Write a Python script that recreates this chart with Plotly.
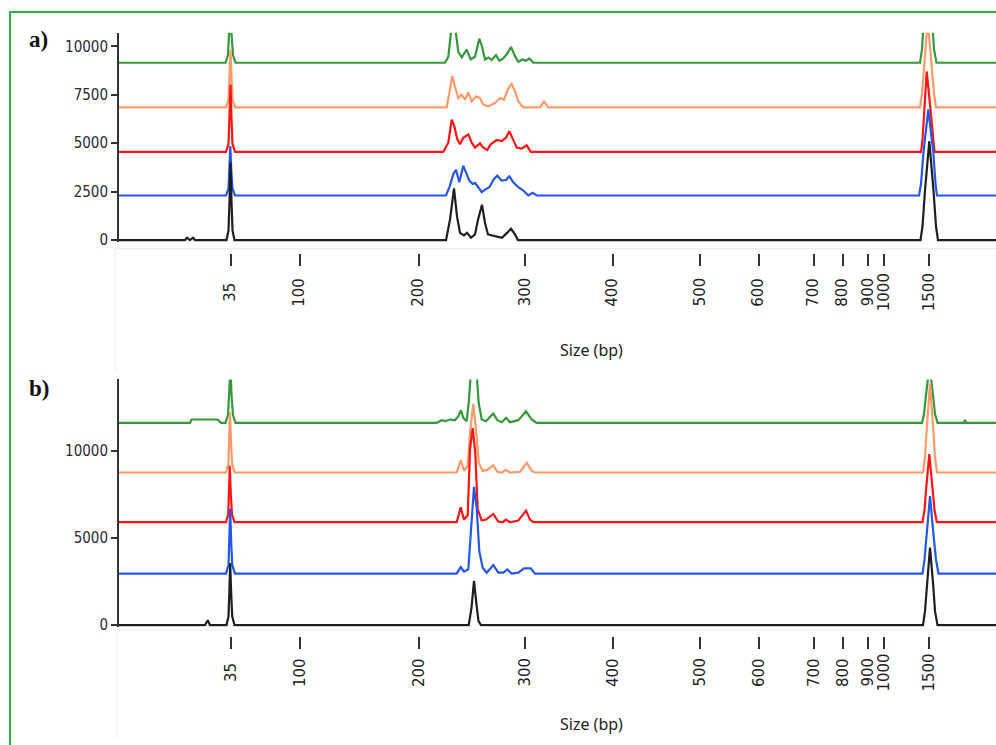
import plotly.graph_objects as go

# ---------------- data ----------------
# Size ladder: fragment size (bp) and its migration time (s)
LADDER_BP = [35, 100, 200, 300, 400, 500, 600, 700, 800, 900, 1000, 1500]
LADDER_T = [31.15, 38.05, 49.95, 60.6, 69.35, 78.1, 83.95, 89.45, 92.35, 94.9, 96.5, 101.0]

A_YTICKS = [0, 2500, 5000, 7500, 10000]
B_YTICKS = [0, 5000, 10000]

# Panel a) traces: migration time and signal (above each trace's own baseline)
A_BLACK_T = [20.0, 26.6, 26.8, 27.1, 27.4, 27.6, 30.75, 30.95, 31.05, 31.15, 31.25, 31.35, 31.55,
             52.7, 53.1, 53.5, 53.8, 54.1, 54.5, 54.8, 55.2, 55.6, 55.9, 56.3, 56.6, 56.9, 57.6,
             58.3, 58.8, 59.2, 59.6, 59.9, 100.15, 100.35, 100.6, 101.03, 101.45, 101.7, 101.9, 107.7]
A_BLACK_V = [0, 0, 120, 0, 120, 0, 0, 500, 2000, 4000, 2000, 500, 0,
             0, 1050, 2670, 1220, 370, 240, 370, 120, 290, 1050, 1820, 880, 290, 200,
             120, 370, 580, 290, 0, 0, 700, 2550, 5100, 2550, 700, 0, 0]

A_BLUE_T = [20.0, 30.7, 30.95, 31.05, 31.13, 31.23, 31.35, 31.6,
            52.7, 53.1, 53.43, 53.7, 54.03, 54.43, 54.7, 55.03, 55.37, 55.6,
            55.93, 56.27, 56.6, 57.03, 57.5, 57.83, 58.27, 58.7, 59.03, 59.43,
            59.93, 60.43, 60.93, 61.37, 61.77,
            100.0, 100.2, 100.45, 100.93, 101.43, 101.65, 101.8, 107.7]
A_BLUE_V = [0, 0, 350, 1300, 2550, 1300, 350, 0,
            0, 510, 1100, 1330, 680, 1530, 1190, 765, 595, 646,
            425, 170, 306, 425, 850, 1020, 765, 800, 986, 680,
            425, 255, 0, 136, 0,
            0, 600, 2220, 4440, 2220, 600, 0, 0]

A_RED_T = [20.0, 30.7, 30.95, 31.05, 31.15, 31.25, 31.35, 31.6,
           52.43, 52.93, 53.27, 53.53, 53.83, 54.1, 54.43, 54.93, 55.27, 55.6,
           56.1, 56.43, 56.83, 57.17, 57.77, 58.27, 58.7, 59.03, 59.37, 59.77,
           60.27, 60.77, 61.17,
           100.2, 100.35, 100.53, 100.77, 101.17, 101.4, 101.55, 107.7]
A_RED_V = [0, 0, 400, 1700, 3470, 1700, 400, 0,
           0, 476, 1666, 1326, 646, 391, 731, 901, 476, 221,
           442, 221, 102, 391, 612, 561, 731, 1071, 646, 221,
           170, 340, 0,
           0, 600, 2075, 4150, 2075, 600, 0, 0]

A_ORANGE_T = [20.0, 30.7, 30.95, 31.05, 31.15, 31.25, 31.35, 31.6,
              52.77, 53.03, 53.33, 53.6, 53.93, 54.27, 54.6, 54.93, 55.27, 55.7,
              56.1, 56.43, 56.93, 57.6, 58.1, 58.5, 58.93, 59.27, 59.6, 59.93,
              60.43, 62.1, 62.5, 62.93,
              100.1, 100.3, 100.5, 100.87, 101.25, 101.5, 101.7, 107.7]
A_ORANGE_V = [0, 0, 400, 1500, 2960, 1500, 400, 0,
              0, 731, 1615, 1071, 476, 646, 391, 765, 306, 561,
              476, 136, 51, 221, 476, 391, 986, 1207, 816, 306,
              0, 0, 306, 0,
              0, 700, 2250, 4500, 2250, 700, 0, 0]

A_GREEN_T = [20.0, 30.65, 30.9, 31.05, 31.15, 31.25, 31.4, 31.65,
             52.6, 52.93, 53.27, 53.6, 53.93, 54.27, 54.77, 55.17, 55.6, 56.03,
             56.27, 56.6, 56.93, 57.27, 57.7, 58.03, 58.43, 58.83, 59.2, 59.6,
             59.93, 60.37, 60.7, 61.03, 61.43,
             100.1, 100.3, 100.5, 100.93, 101.3, 101.5, 101.75, 107.7]
A_GREEN_V = [0, 0, 400, 1500, 3000, 1500, 400, 0,
             0, 306, 1900, 1900, 561, 272, 680, 170, 306, 1241,
             901, 170, 272, 136, 391, 102, 221, 476, 816, 340,
             51, 170, 102, 221, 0,
             0, 700, 2250, 4500, 2250, 700, 0, 0]

A_OFFSETS = {"black": 0, "blue": 2300, "red": 4550, "orange": 6850, "green": 9150}

# Panel b) traces
B_BLACK_T = [20.0, 28.6, 28.87, 29.1, 30.75, 30.95, 31.03, 31.12, 31.22, 31.32, 31.55,
             54.97, 55.25, 55.5, 55.75, 55.95, 56.2,
             100.4, 100.6, 100.77, 101.1, 101.43, 101.6, 101.85, 107.7]
B_BLACK_V = [0, 0, 280, 0, 0, 500, 1800, 3560, 1800, 500, 0,
             0, 985, 2537, 1174, 227, 0,
             0, 800, 2225, 4450, 2225, 800, 0, 0]

B_BLUE_T = [20.0, 30.7, 30.95, 31.03, 31.12, 31.22, 31.32, 31.6,
            53.77, 54.17, 54.5, 54.93, 55.17, 55.5, 55.77, 56.03, 56.37, 56.77,
            57.43, 57.93, 58.43, 58.83, 59.27, 59.93, 60.5, 61.17, 61.6,
            100.35, 100.55, 100.75, 101.1, 101.45, 101.7, 101.95, 107.7]
B_BLUE_V = [0, 0, 500, 1800, 3730, 1800, 500, 0,
            0, 379, 114, 246, 2044, 4979, 3748, 1287, 341, 57,
            492, 57, 57, 246, 0, 57, 303, 303, 0,
            0, 800, 2225, 4450, 2225, 800, 0, 0]

B_RED_T = [20.0, 30.7, 30.92, 31.0, 31.08, 31.18, 31.3, 31.55,
           53.77, 54.17, 54.5, 54.87, 55.1, 55.37, 55.63, 55.87, 56.27, 56.7,
           57.43, 57.93, 58.37, 58.7, 59.1, 59.93, 60.7, 61.1, 61.43,
           100.35, 100.55, 100.72, 101.03, 101.35, 101.55, 101.78, 107.7]
B_RED_V = [0, 0, 450, 1600, 3240, 1600, 450, 0,
           0, 852, 151, 379, 4164, 5395, 3975, 757, 95, 151,
           473, 38, 0, 151, 0, 95, 663, 151, 0,
           0, 700, 1950, 3900, 1950, 700, 0, 0]

B_ORANGE_T = [20.0, 30.7, 30.93, 31.02, 31.1, 31.2, 31.32, 31.55,
              53.77, 54.17, 54.5, 54.87, 55.1, 55.43, 55.7, 55.97, 56.37, 56.83,
              57.43, 57.83, 58.27, 58.7, 59.1, 60.1, 60.77, 61.27, 61.6,
              100.4, 100.6, 100.78, 101.1, 101.42, 101.6, 101.8, 107.7]
B_ORANGE_V = [0, 0, 450, 1700, 3450, 1700, 450, 0,
              0, 719, 95, 379, 2272, 3937, 2461, 568, 95, 151,
              416, 38, 0, 151, 0, 38, 568, 95, 0,
              0, 900, 2550, 5100, 2550, 900, 0, 0]

B_GREEN_T = [20.0, 27.1, 27.25, 29.85, 30.2,
             30.65, 30.9, 31.05, 31.15, 31.25, 31.4, 31.65,
             51.77, 52.27, 52.6, 53.1, 53.6, 53.93, 54.2, 54.43, 54.77, 55.0,
             55.17, 55.5, 55.77, 55.97, 56.27, 56.7, 57.43, 57.83, 58.27, 58.7,
             59.1, 59.93, 60.7, 61.27, 61.77,
             100.3, 100.5, 100.7, 101.05, 101.4, 101.6, 101.85,
             104.5, 104.6, 104.7, 107.7]
B_GREEN_V = [0, 0, 190, 190, 0,
             0, 450, 1600, 3200, 1600, 450, 0,
             0, 150, 95, 190, 150, 379, 719, 284, 95, 1325,
             2800, 3600, 2800, 1136, 190, 95, 530, 151, 38, 284,
             38, 151, 663, 190, 0,
             0, 500, 1600, 3300, 1600, 500, 0,
             0, 170, 0, 0]

B_OFFSETS = {"black": 0, "blue": 2950, "red": 5900, "orange": 8750, "green": 11600}

COLORS = {"black": "#1e1e1e", "blue": "#2457e6", "red": "#ff1414",
          "orange": "#ff9a68", "green": "#33993a"}
DRAW_ORDER = ["green", "orange", "red", "blue", "black"]

PANEL_A = {"black": (A_BLACK_T, A_BLACK_V), "blue": (A_BLUE_T, A_BLUE_V), "red": (A_RED_T, A_RED_V),
           "orange": (A_ORANGE_T, A_ORANGE_V), "green": (A_GREEN_T, A_GREEN_V)}
PANEL_B = {"black": (B_BLACK_T, B_BLACK_V), "blue": (B_BLUE_T, B_BLUE_V), "red": (B_RED_T, B_RED_V),
           "orange": (B_ORANGE_T, B_ORANGE_V), "green": (B_GREEN_T, B_GREEN_V)}

# ---------------- layout helpers ----------------
W, H = 996, 745
ML = 119


def py(p):
    return (H - p) / H


def pxp(p):
    return (p - ML) / (W - ML)


fig = go.Figure()

for panel, offs, xa, ya in [(PANEL_A, A_OFFSETS, "x", "y"), (PANEL_B, B_OFFSETS, "x2", "y2")]:
    for name in DRAW_ORDER:
        t, v = panel[name]
        assert len(t) == len(v)
        fig.add_trace(go.Scatter(
            x=t, y=[val + offs[name] for val in v], mode="lines",
            line=dict(color=COLORS[name], width=2.2),
            xaxis=xa, yaxis=ya, showlegend=False, hoverinfo="skip"))

YFONT = dict(family="DejaVu Sans Condensed, Liberation Sans Narrow, Arial Narrow, sans-serif",
             size=15, color="#2a2a36")

xcommon = dict(domain=[0, 1], range=[20, 107.7], showgrid=False, zeroline=False,
               showline=False, ticks="outside", ticklen=12, tickwidth=1.5,
               tickcolor="#333333", tickvals=LADDER_T, showticklabels=False,
               anchor="free", fixedrange=True)
ycommon = dict(showgrid=False, zeroline=False, showline=True, linecolor="#333333",
               linewidth=2, ticks="outside", ticklen=6, tickwidth=2, tickcolor="#333333",
               tickfont=YFONT, fixedrange=True)

fig.update_layout(
    width=W, height=H,
    margin=dict(l=ML, r=0, t=0, b=0),
    paper_bgcolor="white", plot_bgcolor="white",
    xaxis=dict(**xcommon, position=py(255)),
    xaxis2=dict(**xcommon, position=py(642)),
    yaxis=dict(**ycommon, domain=[py(244.3), py(33)], range=[-100, 10700], anchor="x",
               tickvals=A_YTICKS, ticktext=[str(v) for v in A_YTICKS]),
    yaxis2=dict(**ycommon, domain=[py(632.8), py(383)], range=[-100, 14090], anchor="x2",
                tickvals=B_YTICKS, ticktext=[str(v) for v in B_YTICKS]),
)

annotations = []
XFONT = dict(family="DejaVu Sans, Verdana, sans-serif", size=15, color="#222222")
for xref, ycen in [("x", 295), ("x2", 679)]:
    for bp, t in zip(LADDER_BP, LADDER_T):
        annotations.append(dict(x=t, xref=xref, y=py(ycen), yref="paper", text=str(bp),
                                textangle=-90, showarrow=False, xanchor="center",
                                yanchor="middle", font=XFONT))
TFONT = dict(family="Noto Sans, Open Sans, sans-serif", size=16, color="#222222")
for ycen in [353, 731]:
    annotations.append(dict(x=pxp(591), xref="paper", y=py(ycen), yref="paper",
                            text="Size (bp)", showarrow=False, xanchor="center",
                            yanchor="middle", font=TFONT))
LFONT = dict(family="Liberation Serif, Times New Roman, serif", size=23, color="#111111")
for lab, ycen in [("a)", 40), ("b)", 392)]:
    annotations.append(dict(x=pxp(27), xref="paper", y=py(ycen), yref="paper",
                            text="<b>" + lab + "</b>", showarrow=False, xanchor="left",
                            yanchor="middle", font=LFONT))
fig.update_layout(annotations=annotations)

shapes = [
    dict(type="rect", xref="paper", yref="paper", x0=pxp(10), x1=pxp(1010),
         y0=py(800), y1=py(12), line=dict(color="#2bb24c", width=2),
         fillcolor="rgba(0,0,0,0)"),
    dict(type="line", xref="paper", yref="paper", x0=pxp(115), x1=pxp(996),
         y0=py(251), y1=py(251), line=dict(color="#ebebeb", width=1)),
    dict(type="line", xref="paper", yref="paper", x0=pxp(115), x1=pxp(115),
         y0=py(251), y1=py(375), line=dict(color="#ebebeb", width=1)),
    dict(type="line", xref="paper", yref="paper", x0=pxp(117), x1=pxp(996),
         y0=py(636), y1=py(636), line=dict(color="#ebebeb", width=1)),
    dict(type="line", xref="paper", yref="paper", x0=pxp(117), x1=pxp(117),
         y0=py(636), y1=py(745), line=dict(color="#ebebeb", width=1)),
]
fig.update_layout(shapes=shapes)

fig.write_html("out.html")
